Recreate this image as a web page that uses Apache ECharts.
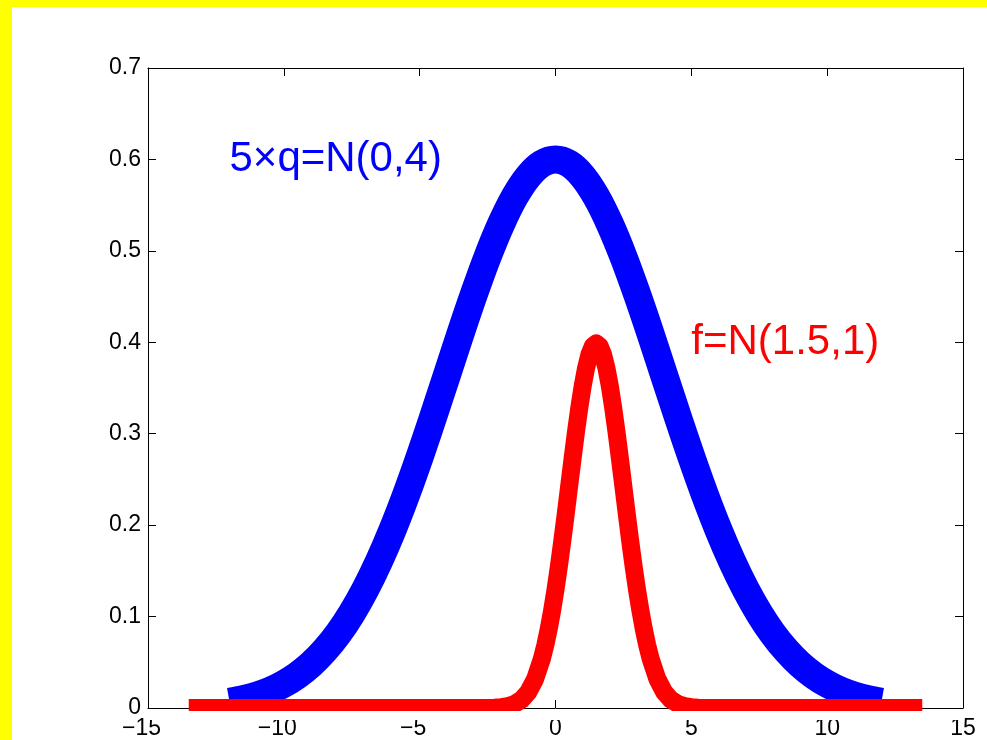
<!DOCTYPE html>
<html>
<head>
<meta charset="utf-8">
<script src="https://cdn.jsdelivr.net/npm/echarts@6/dist/echarts.min.js"></script>
<style>
html,body{margin:0;padding:0;background:#ffffff;}
#chart{width:987px;height:740px;}
</style>
</head>
<body>
<div id="chart"></div>
<script>
// ---- data ----
const xTicks = [-15, -10, -5, 0, 5, 10, 15];
const yTicks = [0, 0.1, 0.2, 0.3, 0.4, 0.5, 0.6, 0.7];

const blueX = [-12, -11.5, -11, -10.5, -10, -9.5, -9, -8.5, -8, -7.5, -7, -6.5, -6, -5.5, -5, -4.5, -4, -3.5, -3, -2.5, -2, -1.5, -1, -0.5,
  0, 0.5, 1, 1.5, 2, 2.5, 3, 3.5, 4, 4.5, 5, 5.5, 6, 6.5, 7, 7.5, 8, 8.5, 9, 9.5, 10, 10.5, 11, 11.5, 12];
const blueY = [0.0067, 0.0096, 0.0137, 0.0191, 0.0264, 0.0358, 0.0477, 0.0628, 0.0812, 0.1035, 0.1298, 0.1603, 0.1948, 0.2331, 0.2747, 0.3187, 0.3639, 0.4092, 0.4529, 0.4936, 0.5295, 0.5593, 0.5815, 0.5953,
  0.6, 0.5953, 0.5815, 0.5593, 0.5295, 0.4936, 0.4529, 0.4092, 0.3639, 0.3187, 0.2747, 0.2331, 0.1948, 0.1603, 0.1298, 0.1035, 0.0812, 0.0628, 0.0477, 0.0358, 0.0264, 0.0191, 0.0137, 0.0096, 0.0067];

const redX = [-13.5, -6, -4, -3, -2.5, -2.25, -2, -1.75, -1.5, -1.25, -1, -0.75, -0.5, -0.375, -0.25, -0.125,
  0, 0.125, 0.25, 0.375, 0.5, 0.625, 0.75, 0.875, 1, 1.125, 1.25, 1.375, 1.5, 1.625, 1.75, 1.875,
  2, 2.125, 2.25, 2.375, 2.5, 2.625, 2.75, 2.875, 3, 3.125, 3.25, 3.375, 3.5, 3.75, 4, 4.25, 4.5, 4.75, 5, 5.25, 5.5, 6, 7, 13.5];
const redY = [0, 0, 0, 0, 0.0001, 0.0003, 0.0009, 0.0020, 0.0044, 0.0091, 0.0175, 0.0317, 0.0540, 0.0688, 0.0863, 0.1066,
  0.1295, 0.1550, 0.1826, 0.2119, 0.2420, 0.2720, 0.3011, 0.3281, 0.3521, 0.3718, 0.3867, 0.3958, 0.3989, 0.3958, 0.3867, 0.3718,
  0.3521, 0.3281, 0.3011, 0.2720, 0.2420, 0.2119, 0.1826, 0.1550, 0.1295, 0.1066, 0.0863, 0.0688, 0.0540, 0.0317, 0.0175, 0.0091, 0.0044, 0.0020, 0.0009, 0.0003, 0.0001, 0, 0, 0];

const blueLabel = '5\u00d7q=N(0,4)';
const blueLabelAt = [-12, 0.6];
const redLabel = 'f=N(1.5,1)';
const redLabelAt = [5, 0.4];

// ---- chart ----
const zip = (xs, ys) => xs.map((x, i) => [x, ys[i]]);
const FONT = "'Liberation Sans', Arial, Helvetica, sans-serif";
const axisLineStyle = { color: '#000', width: 1 };

const chart = echarts.init(document.getElementById('chart'), null, { renderer: 'canvas' });
const xCommon = {
  type: 'value', min: xTicks[0], max: xTicks[xTicks.length - 1], interval: 5,
  splitLine: { show: false },
  axisLine: { show: true, onZero: false, lineStyle: axisLineStyle },
  axisTick: { show: true, inside: true, length: 8, lineStyle: axisLineStyle }
};
const yCommon = {
  type: 'value', min: yTicks[0], max: yTicks[yTicks.length - 1], interval: 0.1,
  splitLine: { show: false },
  axisLine: { show: true, onZero: false, lineStyle: axisLineStyle },
  axisTick: { show: true, inside: true, length: 8, lineStyle: axisLineStyle }
};

chart.setOption({
  animation: false,
  backgroundColor: '#ffffff',
  grid: { left: 148, top: 68, right: 24, bottom: 30, containLabel: false },
  xAxis: [
    Object.assign({}, xCommon, {
      position: 'bottom',
      axisLabel: {
        show: true, margin: 9, fontSize: 23, color: '#000', fontFamily: FONT,
        formatter: v => v < 0 ? '{n|\u2212' + Math.abs(v) + '}' : String(v),
        rich: { n: { fontSize: 23, color: '#000', fontFamily: FONT, padding: [0, 13, 0, 0] } }
      }
    }),
    Object.assign({}, xCommon, { position: 'top', axisLabel: { show: false } })
  ],
  yAxis: [
    Object.assign({}, yCommon, {
      position: 'left',
      axisLabel: { show: true, margin: 7, fontSize: 23, color: '#000', fontFamily: FONT,
        formatter: v => String(Math.round(v * 10) / 10) }
    }),
    Object.assign({}, yCommon, { position: 'right', axisLabel: { show: false } })
  ],
  graphic: [
    { type: 'rect', z: 100, silent: true, shape: { x: 149, y: 711, width: 813, height: 9 }, style: { fill: '#ffffff' } },
    { type: 'rect', z: 100, silent: true, shape: { x: 0, y: 0, width: 987, height: 7 }, style: { fill: '#ffff00' } },
    { type: 'rect', z: 100, silent: true, shape: { x: 0, y: 0, width: 12, height: 740 }, style: { fill: '#ffff00' } }
  ],
  series: [
    {
      type: 'line', name: 'q', data: zip(blueX, blueY), showSymbol: false, symbol: 'none', smooth: 0.3,
      lineStyle: { color: '#0000ff', width: 28, cap: 'butt', join: 'round' }, z: 2
    },
    {
      type: 'line', name: 'f', data: zip(redX, redY), showSymbol: false, symbol: 'none',
      lineStyle: { color: '#ff0000', width: 18, cap: 'butt', join: 'round' }, z: 3
    },
    {
      type: 'scatter', name: 'labels', symbolSize: 0, z: 5,
      itemStyle: { opacity: 1 },
      data: [
        { value: blueLabelAt, label: { formatter: blueLabel, color: '#0000ff' } },
        { value: redLabelAt, label: { formatter: redLabel, color: '#ff0000' } }
      ],
      label: { show: true, position: 'right', distance: 0, fontSize: 42, fontFamily: FONT, opacity: 1 }
    }
  ]
});
</script>
</body>
</html>
